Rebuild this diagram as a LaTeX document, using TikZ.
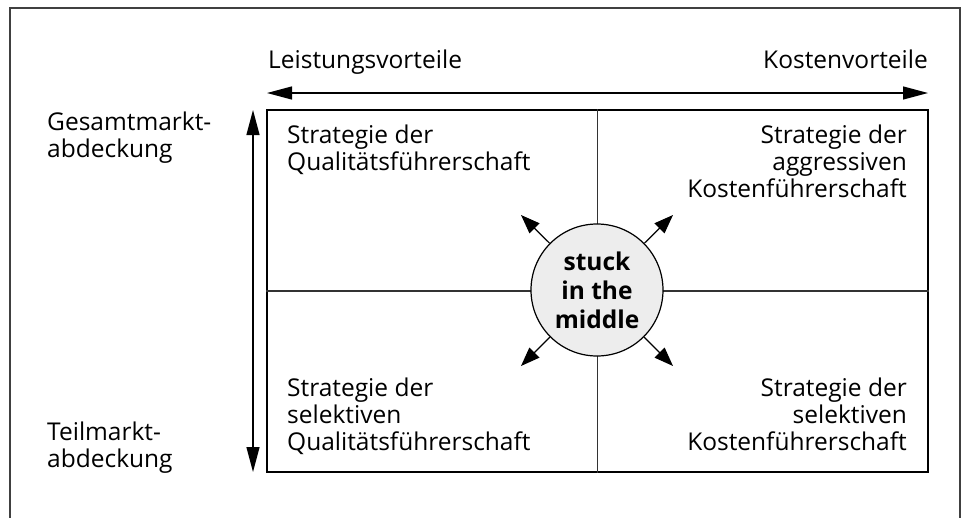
\documentclass[tikz,border=0pt]{standalone}
\usepackage{fontspec}
\setmainfont{Open Sans}
\usetikzlibrary{arrows.meta}
\begin{document}
\begin{tikzpicture}[x=1pt,y=-1pt,
  txt/.style={font=\fontsize{24.5}{27}\selectfont, inner sep=0pt},
  axis/.style={line width=1.3pt, {Triangle[length=25pt,width=13pt]}-{Triangle[length=25pt,width=13pt]}},
  diag/.style={line width=1.2pt, -{Triangle[length=19pt,width=14pt]}},
  divider/.style={line width=1.1pt, black!80}]
\useasboundingbox (0,0) rectangle (964,517);
% outer frame
\draw[line width=1.5pt, black!75] (10,540) -- (10,8) -- (960,8) -- (960,540);
% matrix box
\node[draw, line width=1.4pt, minimum width=661pt, minimum height=362pt, inner sep=0pt] (box) at (597.5,291) {};
\draw[divider] (box.north) -- (box.south);
\draw[divider] (box.west) -- (box.east);
% axes
\coordinate (hl) at (267,93);
\coordinate (hr) at (928,93);
\coordinate (vt) at (253,110);
\coordinate (vb) at (253,472);
\draw[axis] (hl) -- (hr);
\draw[axis] (vt) -- (vb);
\node[txt, anchor=base west] (lv) at (268,68) {Leistungsvorteile};
\node[txt, anchor=base east] (kv) at (928,68) {Kostenvorteile};
% base anchors of multi-line labels sit on the last line
\node[txt, anchor=base west, align=left] (gm) at (47,157) {Gesamtmarkt-\\abdeckung};
\node[txt, anchor=base west, align=left] (tm) at (47,467) {Teilmarkt-\\abdeckung};
% quadrant labels
\node[txt, anchor=base west, align=left] (q1) at (287,170) {Strategie der\\Qualitätsführerschaft};
\node[txt, anchor=base east, align=right] (q2) at (907,197) {Strategie der\\aggressiven\\Kostenführerschaft};
\node[txt, anchor=base west, align=left] (q3) at (287,450) {Strategie der\\selektiven\\Qualitätsführerschaft};
\node[txt, anchor=base east, align=right] (q4) at (907,450) {Strategie der\\selektiven\\Kostenführerschaft};
% centre
\node[circle, draw, line width=1.2pt, fill=black!7, minimum size=132pt, inner sep=0pt,
  font=\bfseries\fontsize{24.5}{29}\selectfont, align=center] (mid) at (597,290) {stuck\\in the\\middle};
\coordinate (ne) at (673,215);
\coordinate (nw) at (521,215);
\coordinate (se) at (673,366);
\coordinate (sw) at (521,366);
\foreach \t in {ne,nw,se,sw} \draw[diag] (mid) -- (\t);
\end{tikzpicture}
\end{document}
